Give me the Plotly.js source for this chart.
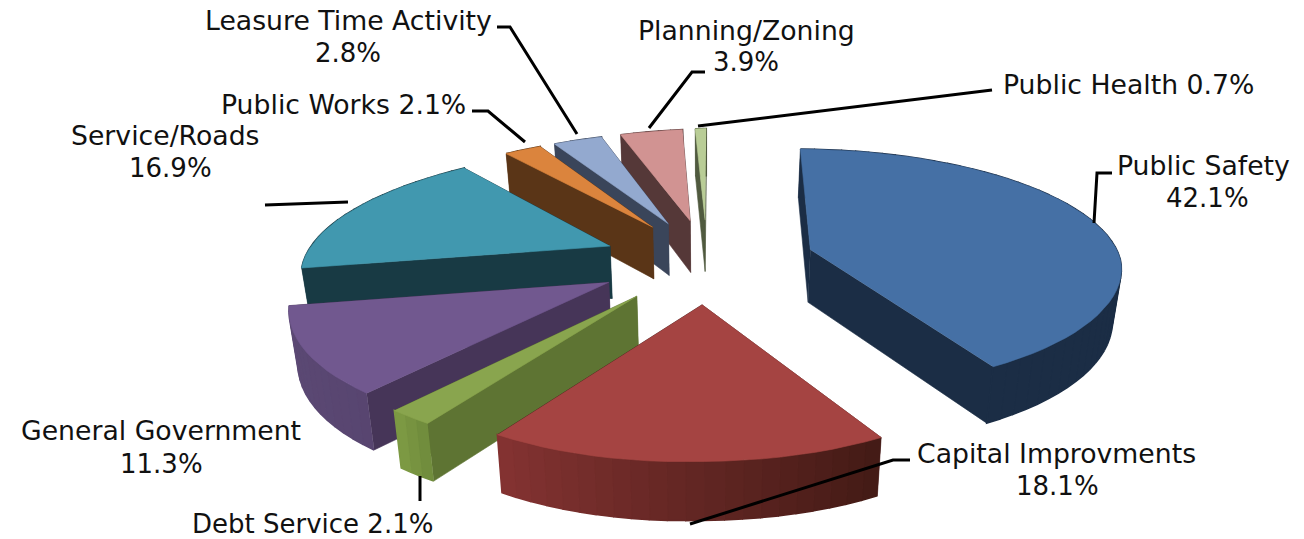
<!DOCTYPE html>
<html><head><meta charset="utf-8">
<script src="https://cdn.plot.ly/plotly-3.0.1.min.js"></script>
<style>html,body{margin:0;padding:0;background:#fff}#c{width:1304px;height:539px}</style></head>
<body><div id="c"></div>
<script>
// ---- data ----
const categories = ["Public Safety","Capital Improvments","Debt Service","General Government","Service/Roads","Public Works","Leasure Time Activity","Planning/Zoning","Public Health"];
const shares = [42.1,18.1,2.1,11.3,16.9,2.1,2.8,3.9,0.7];
// ---- styles ----
const topColors = ["#4570A5","#A54442","#89A54E","#71588F","#4198AF","#DB843D","#93A9CF","#D19392","#B9CD96"];
const faceColors = ["#1B2D45","#4A1F1D","#5E7433","#463558","#183A44","#5A3517","#3A455A","#553838","#505A3F"];
const rimFrom = ["#1B2D45","#421A15","#6E8A3B","#584570","#183A44","#5A3517","#3A455A","#553838","#505A3F"];
const rimTo = ["#1B2D45","#843332","#7F9C45","#5C4A75","#183A44","#5A3517","#3A455A","#553838","#505A3F"];
const drawOrder = [8,7,6,5,4,0,3,2,1];
const labelLines = [
 [[1203,165,"name",26.7],[1207,198,"pct",26]],
 [[1056,453,"name",26.7],[1057,486,"pct",26]],
 [[312,524,"both",26]],
 [[161,430,"name",26.7],[161,464,"pct",26]],
 [[165,135,"name",26.7],[170,168,"pct",26]],
 [[343,104,"both",26.7]],
 [[348,20,"name",26.7],[348,53,"pct",26]],
 [[746,30,"name",26.7],[746,62,"pct",26]],
 [[1128,84,"both",26.7]]
];
const leaderX = [[1094,1097,1112],[690,883,893,910],[420,420],[],[265,348],[472,488,525],[497,510,577],[649,692,705],[698,992]];
const leaderY = [[223,173,173],[524,463,460,460],[476,501],[],[205,202],[111,111,142],[27,27,134],[128,72,72],[126,90]];
// ---- projection of the exploded tilted pie ----
const Vx=707,Vy=260,R=310,E=108;
const rad=d=>d*Math.PI/180;
const warp=t=>t>180?t-1.6+1.8*Math.max(0,Math.min(1,(t-325)/20)):t-0.5+1.5*Math.cos(rad(t));
function proj(X,Z,low){
  const s=Z<0?1-0.0004*Z:1-0.00045*Z, f=Z>0?0.39-0.00018*Z:0.39-0.00022*Z;
  let x=Vx+X*s, y=Vy-Z*f+(X<0?-0.027*X:0);
  if(low){x=Vx+(x-Vx)*0.978; y+=53-0.014*Z;}
  return [x,y];
}
function mix(a,b,t){const p=c=>[1,3,5].map(i=>parseInt(c.substr(i,2),16));const A=p(a),B=p(b);
  return "rgb("+A.map((v,i)=>Math.round(v+(B[i]-v)*t)).join(",")+")";}
const total=shares.reduce((a,b)=>a+b,0);
let cum=0; const spans=shares.map(v=>{const a=cum/total*360;cum+=v;return [a,cum/total*360];});
const traces=[];
function poly(pts,color,w){traces.push({type:"scatter",mode:"lines",x:pts.map(p=>p[0]),y:pts.map(p=>p[1]),fill:"toself",fillcolor:color,line:{color:color,width:w},hoverinfo:"skip",showlegend:false});}
function drawSlice(i){
  const [a,b]=spans[i], mid=warp((a+b)/2);
  const ex=E*Math.sin(rad(mid)), ez=E*Math.cos(rad(mid));
  const n=Math.max(3,Math.round((b-a)/3));
  const rimAngles=[];for(let k=0;k<=n;k++)rimAngles.push(warp(a+(b-a)*k/n));
  const pt=(r,t,low)=>proj(ex+r*Math.sin(rad(t)),ez+r*Math.cos(rad(t)),low);
  const faces=[];
  const t0=rimAngles[0],t1=rimAngles[n];
  faces.push({P:[0,t0],Q:[R,t0],c:faceColors[i],w:0.6});
  faces.push({P:[R,t1],Q:[0,t1],c:faceColors[i],w:0.6});
  for(let k=0;k<n;k++)faces.push({P:[R,rimAngles[k]],Q:[R,rimAngles[k+1]],c:mix(rimFrom[i],rimTo[i],(k+.5)/n),w:1.6});
  const vis=f=>pt(f.Q[0],f.Q[1],false)[0]<pt(f.P[0],f.P[1],false)[0];
  const paint=f=>poly([pt(f.P[0],f.P[1],false),pt(f.Q[0],f.Q[1],false),pt(f.Q[0],f.Q[1],true),pt(f.P[0],f.P[1],true)],f.c,f.w);
  faces.filter(f=>!vis(f)).forEach(paint);
  faces.filter(vis).forEach(paint);
  const top=[pt(0,t0,false)];rimAngles.forEach(t=>top.push(pt(R,t,false)));
  poly(top,topColors[i],0.6);
}
drawOrder.forEach(drawSlice);
leaderX.forEach((xs,i)=>{if(xs.length)traces.push({type:"scatter",mode:"lines",x:xs,y:leaderY[i],line:{color:"#000",width:3},hoverinfo:"skip",showlegend:false});});
const annotations=[];
labelLines.forEach((lines,i)=>lines.forEach(([x,y,kind,size])=>{
  const pct=shares[i].toFixed(1)+"%";
  annotations.push({x,y,xref:"x",yref:"y",showarrow:false,xanchor:"center",yanchor:"middle",font:{size},
    text:kind==="name"?categories[i]:kind==="pct"?pct:categories[i]+" "+pct});
}));
const hidden={range:[0,1304],visible:false,fixedrange:true};
Plotly.newPlot("c",traces,{width:1304,height:539,margin:{l:0,r:0,t:0,b:0},paper_bgcolor:"#fff",plot_bgcolor:"#fff",
  xaxis:hidden,yaxis:{range:[539,0],visible:false,fixedrange:true},showlegend:false,
  font:{family:"DejaVu Sans",size:26,color:"#111"},annotations},{displayModeBar:false,staticPlot:true});
</script></body></html>
